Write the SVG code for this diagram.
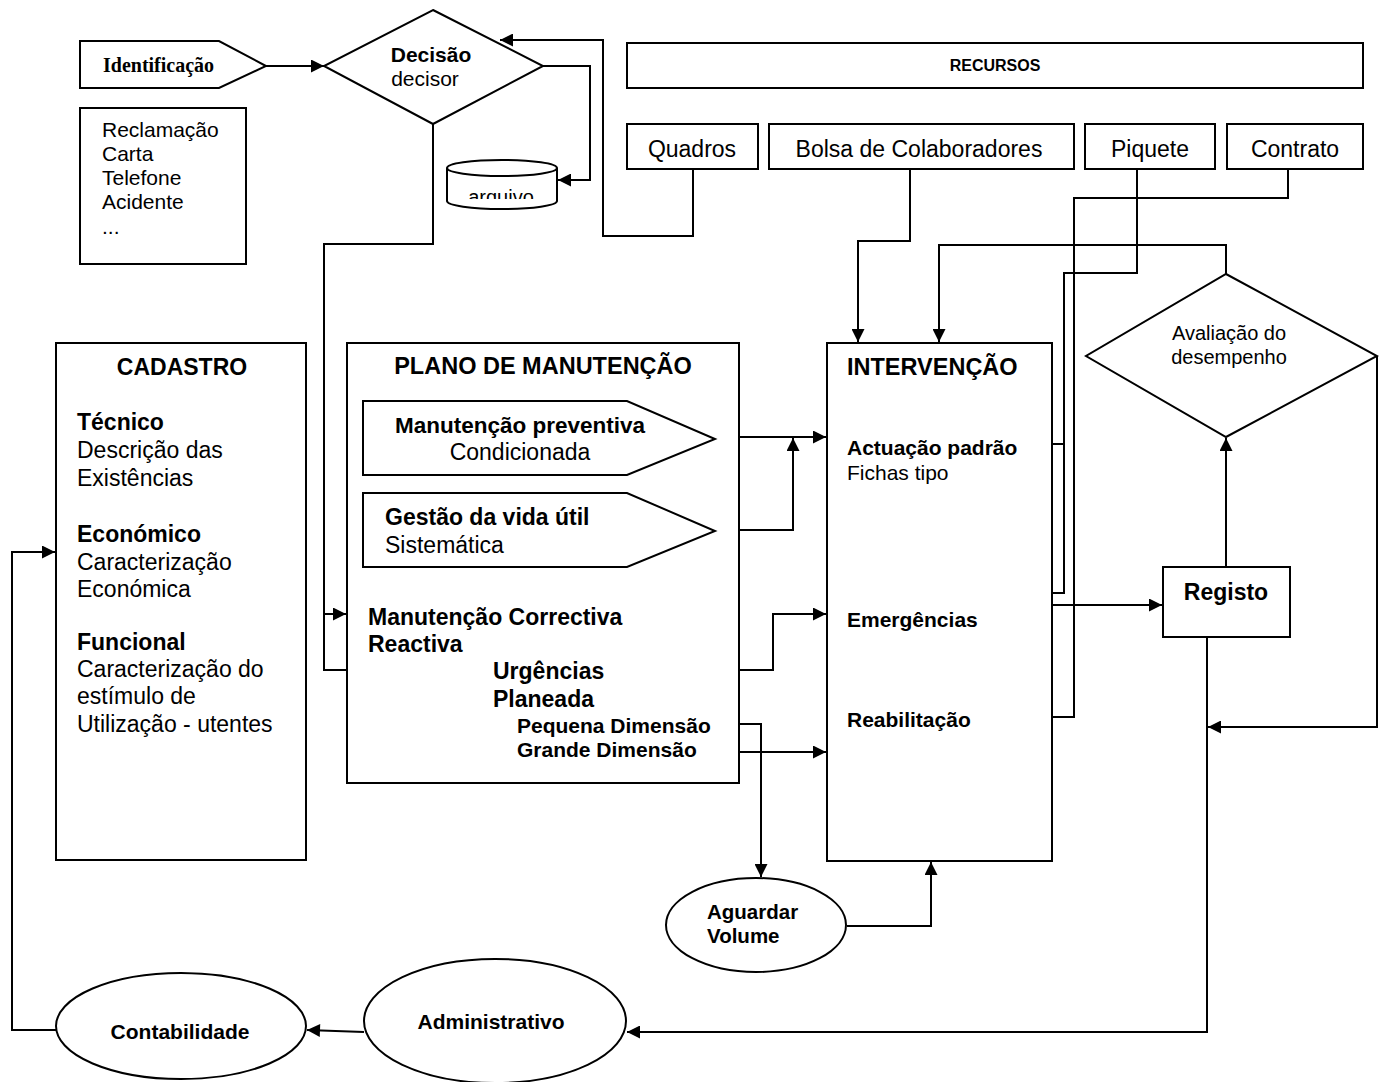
<svg xmlns="http://www.w3.org/2000/svg" width="1379" height="1082" viewBox="0 0 1379 1082">
<style>
.s{fill:#fff;stroke:#000;stroke-width:2}
.c{fill:none;stroke:#000;stroke-width:2}
text{font-family:"Liberation Sans",Arial,sans-serif;fill:#000}
.b{font-weight:bold}
.m{text-anchor:middle}
</style>
<defs>
<marker id="ah" viewBox="0 0 10 10" refX="10" refY="5" markerWidth="15" markerHeight="13" markerUnits="userSpaceOnUse" orient="auto"><path d="M0,0 L10,5 L0,10 z" fill="#000"/></marker>
<clipPath id="cyl"><rect x="445" y="150" width="115" height="49"/></clipPath>
</defs>
<rect width="1379" height="1082" fill="#fff"/>

<g id="connectors">
<path class="c" d="M266,66 H324" marker-end="url(#ah)"/>
<path class="c" d="M543,66 H590 V180 H558" marker-end="url(#ah)"/>
<path class="c" d="M693,169 V236 H603 V40 H500" marker-end="url(#ah)"/>
<path class="c" d="M433,124 V244 H324 V614 H346" marker-end="url(#ah)"/>
<path class="c" d="M324,614 V670 H493" marker-end="url(#ah)"/>
<path class="c" d="M604,670 H773 V614 H826" marker-end="url(#ah)"/>
<path class="c" d="M739,437 H826" marker-end="url(#ah)"/>
<path class="c" d="M739,530 H793 V438" marker-end="url(#ah)"/>
<path class="c" d="M739,724 H761 V877" marker-end="url(#ah)"/>
<path class="c" d="M714,752 H826" marker-end="url(#ah)"/>
<path class="c" d="M847,926 H931 V862" marker-end="url(#ah)"/>
<path class="c" d="M910,169 V241 H858 V342" marker-end="url(#ah)"/>
<path class="c" d="M1226,274 V245 H939 V342" marker-end="url(#ah)"/>
<path class="c" d="M1137,169 V273 H1064 V593 H1018 V624 H991" marker-end="url(#ah)"/>
<path class="c" d="M1064,444 H1019" marker-end="url(#ah)"/>
<path class="c" d="M1288,169 V198 H1074 V717 H991" marker-end="url(#ah)"/>
<path class="c" d="M1052,605 H1162" marker-end="url(#ah)"/>
<path class="c" d="M1226,567 V438" marker-end="url(#ah)"/>
<path class="c" d="M1377,356 V727 H1208" marker-end="url(#ah)"/>
<path class="c" d="M1207,637 V1032 H627" marker-end="url(#ah)"/>
<path class="c" d="M364,1032 L307,1030" marker-end="url(#ah)"/>
<path class="c" d="M57,1030 H12 V552 H55" marker-end="url(#ah)"/>
</g>

<g id="identificacao">
<polygon class="s" points="80,41 219,41 266,66 219,88 80,88"/>
<text x="103" y="72" style="font-family:'Liberation Serif','Times New Roman',serif;font-size:20px;font-weight:bold">Identificação</text>
</g>

<g id="lista">
<rect class="s" x="80" y="108" width="166" height="156"/>
<text x="102" y="137" font-size="21">Reclamação</text>
<text x="102" y="161" font-size="21">Carta</text>
<text x="102" y="185" font-size="21">Telefone</text>
<text x="102" y="209" font-size="21">Acidente</text>
<text x="102" y="234" font-size="21">...</text>
</g>

<g id="decisao">
<polygon class="s" points="433,10 543,66 433,124 324,66"/>
<text x="431" y="62" class="b m" font-size="21">Decisão</text>
<text x="425" y="86" class="m" font-size="21">decisor</text>
</g>

<g id="arquivo">
<path class="s" d="M447,168 V201 A55,8 0 0 0 557,201 V168"/>
<ellipse class="s" cx="502" cy="168" rx="55" ry="8"/>
<text x="501" y="204" class="m" font-size="20" clip-path="url(#cyl)">arquivo</text>
</g>

<g id="recursos">
<rect class="s" x="627" y="43" width="736" height="45"/>
<text x="995" y="71" class="b m" font-size="16">RECURSOS</text>
</g>
<g id="quadros">
<rect class="s" x="627" y="124" width="131" height="45"/>
<text x="692" y="157" class="m" font-size="23">Quadros</text>
</g>
<g id="bolsa">
<rect class="s" x="769" y="124" width="305" height="45"/>
<text x="919" y="157" class="m" font-size="23">Bolsa de Colaboradores</text>
</g>
<g id="piquete">
<rect class="s" x="1085" y="124" width="130" height="45"/>
<text x="1150" y="157" class="m" font-size="23">Piquete</text>
</g>
<g id="contrato">
<rect class="s" x="1227" y="124" width="136" height="45"/>
<text x="1295" y="157" class="m" font-size="23">Contrato</text>
</g>

<g id="cadastro">
<rect class="s" x="56" y="343" width="250" height="517"/>
<text x="182" y="375" class="b m" font-size="23">CADASTRO</text>
<text x="77" y="430" class="b" font-size="23">Técnico</text>
<text x="77" y="458" font-size="23">Descrição das</text>
<text x="77" y="486" font-size="23">Existências</text>
<text x="77" y="542" class="b" font-size="23">Económico</text>
<text x="77" y="570" font-size="23">Caracterização</text>
<text x="77" y="597" font-size="23">Económica</text>
<text x="77" y="650" class="b" font-size="23">Funcional</text>
<text x="77" y="677" font-size="23">Caracterização do</text>
<text x="77" y="704" font-size="23">estímulo de</text>
<text x="77" y="732" font-size="23">Utilização - utentes</text>
</g>

<g id="plano">
<rect class="s" x="347" y="343" width="392" height="440"/>
<text x="543" y="374" class="b m" font-size="23.5">PLANO DE MANUTENÇÃO</text>
<text x="368" y="625" class="b" font-size="23">Manutenção Correctiva</text>
<text x="368" y="652" class="b" font-size="23">Reactiva</text>
<text x="493" y="679" class="b" font-size="23">Urgências</text>
<text x="493" y="707" class="b" font-size="23">Planeada</text>
<text x="517" y="733" class="b" font-size="21">Pequena Dimensão</text>
<text x="517" y="757" class="b" font-size="21">Grande Dimensão</text>
</g>
<g id="preventiva">
<polygon class="s" points="363,401 627,401 715,439 627,475 363,475"/>
<text x="520" y="433" class="b m" font-size="22.5">Manutenção preventiva</text>
<text x="520" y="460" class="m" font-size="23">Condicionada</text>
</g>
<g id="vidautil">
<polygon class="s" points="363,493 627,493 715,531 627,567 363,567"/>
<text x="385" y="525" class="b" font-size="23">Gestão da vida útil</text>
<text x="385" y="553" font-size="23">Sistemática</text>
</g>

<g id="intervencao">
<rect class="s" x="827" y="343" width="225" height="518"/>
<text x="847" y="375" class="b" font-size="23.5">INTERVENÇÃO</text>
<text x="847" y="455" class="b" font-size="21">Actuação padrão</text>
<text x="847" y="480" font-size="21">Fichas tipo</text>
<text x="847" y="627" class="b" font-size="21">Emergências</text>
<text x="847" y="727" class="b" font-size="21">Reabilitação</text>
</g>

<g id="avaliacao">
<polygon class="s" points="1226,274 1377,356 1226,437 1086,356"/>
<text x="1229" y="340" class="m" font-size="20">Avaliação do</text>
<text x="1229" y="364" class="m" font-size="20">desempenho</text>
</g>

<g id="registo">
<rect class="s" x="1163" y="567" width="127" height="70"/>
<text x="1226" y="600" class="b m" font-size="23">Registo</text>
</g>

<g id="aguardar">
<ellipse class="s" cx="756" cy="925" rx="90" ry="47"/>
<text x="707" y="919" class="b" font-size="20.5">Aguardar</text>
<text x="707" y="943" class="b" font-size="20.5">Volume</text>
</g>

<g id="administrativo">
<ellipse class="s" cx="495" cy="1021" rx="131" ry="62"/>
<text x="491" y="1029" class="b m" font-size="21">Administrativo</text>
</g>

<g id="contabilidade">
<ellipse class="s" cx="181" cy="1026" rx="125" ry="53"/>
<text x="180" y="1039" class="b m" font-size="21">Contabilidade</text>
</g>
</svg>
